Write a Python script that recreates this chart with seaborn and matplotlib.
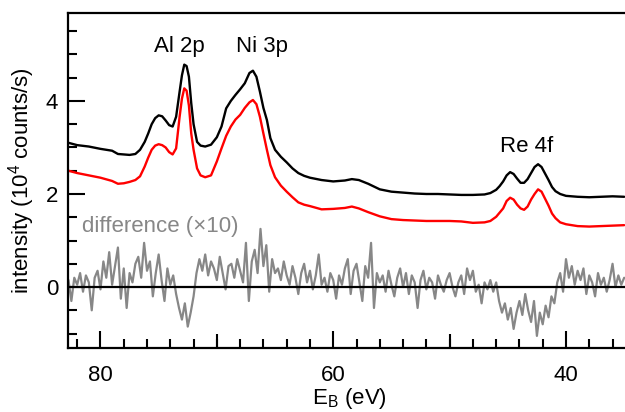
import matplotlib
matplotlib.use("Agg")
import matplotlib.pyplot as plt
import numpy as np
import pandas as pd
import seaborn as sns
from matplotlib.ticker import MultipleLocator

# binding energies (eV) for the two measured spectra
energy = [
    82.75, 82.0, 81.0, 80.0, 79.0, 78.5, 78.0, 77.5, 77.0, 76.6,
    76.2, 75.9, 75.6, 75.3, 75.0, 74.7, 74.4, 74.1, 73.8, 73.5,
    73.2, 73.0, 72.8, 72.6, 72.4, 72.2, 72.0, 71.7, 71.4, 71.0,
    70.5, 70.0, 69.6, 69.2, 68.8, 68.4, 68.0, 67.6, 67.2, 66.9,
    66.6, 66.3, 66.0, 65.7, 65.4, 65.0, 64.5, 64.0, 63.5, 63.0,
    62.5, 62.0, 61.0, 60.0, 59.0, 58.4, 57.8, 57.0, 56.0, 55.0,
    54.0, 53.0, 52.0, 51.0, 50.0, 49.0, 48.0, 47.0, 46.5, 46.0,
    45.7, 45.4, 45.1, 44.8, 44.5, 44.2, 43.9, 43.6, 43.3, 43.0,
    42.7, 42.4, 42.1, 41.8, 41.5, 41.2, 40.9, 40.5, 40.0, 39.0,
    38.0, 37.0, 36.0, 35.0,
]

# black spectrum (10^4 counts/s)
spectrum_black = [
    3.10, 3.05, 3.02, 2.97, 2.93, 2.86, 2.85, 2.84, 2.86, 2.95,
    3.12, 3.30, 3.50, 3.63, 3.69, 3.67, 3.58, 3.48, 3.45, 3.66,
    4.20, 4.55, 4.78, 4.75, 4.52, 3.95, 3.50, 3.12, 3.04, 3.02,
    3.06, 3.22, 3.45, 3.84, 4.00, 4.13, 4.25, 4.38, 4.60, 4.65,
    4.52, 4.20, 3.85, 3.59, 3.20, 2.95, 2.80, 2.68, 2.55, 2.45,
    2.39, 2.35, 2.30, 2.27, 2.29, 2.32, 2.30, 2.22, 2.10, 2.05,
    2.03, 2.01, 2.00, 2.00, 1.99, 1.98, 1.98, 1.99, 2.02, 2.09,
    2.17, 2.27, 2.40, 2.47, 2.43, 2.33, 2.24, 2.24, 2.32, 2.45,
    2.58, 2.64, 2.58, 2.44, 2.30, 2.15, 2.06, 2.00, 1.96, 1.94,
    1.93, 1.94, 1.95, 1.94,
]

# red spectrum (10^4 counts/s)
spectrum_red = [
    2.50, 2.45, 2.40, 2.35, 2.28, 2.22, 2.23, 2.26, 2.30, 2.38,
    2.59, 2.78, 2.95, 3.04, 3.07, 3.05, 3.00, 2.90, 2.85, 2.98,
    3.66, 4.05, 4.27, 4.22, 3.90, 3.30, 2.95, 2.55, 2.40, 2.36,
    2.40, 2.70, 2.98, 3.25, 3.45, 3.60, 3.70, 3.85, 3.97, 4.02,
    3.93, 3.66, 3.30, 2.95, 2.62, 2.36, 2.18, 2.05, 1.93, 1.82,
    1.77, 1.74, 1.67, 1.68, 1.70, 1.73, 1.69, 1.61, 1.52, 1.46,
    1.44, 1.43, 1.42, 1.42, 1.42, 1.41, 1.38, 1.39, 1.42, 1.51,
    1.60, 1.69, 1.85, 1.92, 1.88, 1.77, 1.69, 1.66, 1.73, 1.88,
    2.00, 2.10, 2.05, 1.90, 1.75, 1.58, 1.48, 1.39, 1.35, 1.31,
    1.30, 1.31, 1.32, 1.33,
]

# difference (x10), sampled every 0.25 eV from 82.75 eV down to 35 eV
diff_start, diff_stop, diff_step = 82.75, 35.0, 0.25
difference = [
    0.15, -0.30, 0.20, 0.05, 0.30, -0.10, 0.25, 0.10, -0.50, 0.20, 0.35, -0.05,
    0.55, 0.20, 0.75, 0.05, 0.45, 0.85, -0.25, 0.40, -0.45, 0.30, 0.10, 0.50,
    0.65, 0.20, 0.95, 0.35, 0.55, -0.20, 0.30, 0.70, 0.15, -0.30, 0.40, 0.05,
    0.25, -0.15, -0.45, -0.70, -0.35, -0.85, -0.55, -0.20, 0.30, 0.60, 0.35, 0.70,
    0.25, 0.55, 0.40, 0.15, 0.65, 0.30, -0.05, 0.45, 0.50, 0.20, 0.60, 0.35,
    0.10, 0.95, -0.30, 0.55, 0.80, 0.30, 1.25, 0.45, 0.90, -0.10, 0.60, 0.30,
    0.40, 0.15, 0.55, 0.25, 0.05, 0.45, 0.20, -0.15, 0.30, 0.50, 0.10, 0.35,
    -0.05, 0.25, 0.70, 0.05, 0.20, -0.10, 0.30, 0.15, -0.25, 0.25, 0.05, 0.40,
    0.60, -0.15, 0.35, 0.50, 0.10, -0.30, 0.45, 0.20, 0.95, -0.45, 0.30, 0.10,
    0.25, -0.10, 0.35, 0.05, -0.20, 0.20, 0.40, 0.00, 0.30, -0.15, 0.25, 0.10,
    -0.45, 0.15, 0.35, -0.05, 0.20, 0.10, -0.25, 0.25, 0.05, -0.10, 0.15, 0.30,
    0.00, -0.20, 0.10, 0.25, -0.15, 0.40, 0.15, 0.35, -0.10, 0.05, -0.35, 0.10,
    -0.05, 0.15, -0.10, 0.10, -0.30, -0.55, -0.35, -0.70, -0.45, -0.90, -0.55, -0.30,
    -0.60, -0.15, -0.50, -0.75, -0.30, -1.05, -0.55, -0.80, -0.40, -0.65, -0.20, -0.35,
    0.10, 0.30, -0.10, 0.60, 0.20, 0.45, 0.05, 0.35, 0.15, 0.40, -0.15, 0.25,
    0.10, -0.20, 0.30, 0.05, 0.20, -0.10, 0.15, 0.50, 0.00, 0.25, 0.05, 0.20,
]
diff_energy = np.arange(diff_start, diff_stop - diff_step / 2, -diff_step)

peak_labels = ["Al 2p", "Ni 3p", "Re 4f"]
peak_label_pos = [(73.2, 5.05), (66.1, 5.05), (43.35, 2.91)]

sns.set_style("ticks")
plt.rcParams["font.family"] = ["Liberation Sans", "DejaVu Sans"]
plt.rcParams["mathtext.default"] = "regular"
plt.rcParams["font.size"] = 16
plt.rcParams["text.color"] = "black"
plt.rcParams["axes.labelcolor"] = "black"
plt.rcParams["xtick.color"] = "black"
plt.rcParams["ytick.color"] = "black"

df = pd.DataFrame({"E": energy, "black": spectrum_black, "red": spectrum_red})
df_diff = pd.DataFrame({"E": diff_energy, "diff": difference})

fig = plt.figure(figsize=(6.25, 4.12), dpi=100)
ax = fig.add_axes([68 / 625, 64 / 412, 562 / 625, 335 / 412])

sns.lineplot(data=df_diff, x="E", y="diff", color="#878787", lw=1.6,
             estimator=None, ax=ax)
sns.lineplot(data=df, x="E", y="red", color="#ff0000", lw=1.7,
             estimator=None, ax=ax)
sns.lineplot(data=df, x="E", y="black", color="black", lw=1.7,
             estimator=None, ax=ax)
ax.axhline(0, color="black", lw=1.6, zorder=5)

ax.set_xlim(82.79, 34.5)
ax.set_ylim(-1.31, 5.89)

ax.xaxis.set_major_locator(MultipleLocator(20))
ax.xaxis.set_minor_locator(MultipleLocator(2))
ax.yaxis.set_major_locator(MultipleLocator(2))
ax.yaxis.set_minor_locator(MultipleLocator(0.5))
ax.tick_params(axis="both", which="both", direction="in", width=1.5,
               colors="black", labelsize=16)
ax.tick_params(axis="both", which="major", length=12)
ax.tick_params(axis="both", which="minor", length=6.5)
ax.tick_params(axis="x", which="major", pad=12.5)
ax.tick_params(axis="y", which="major", pad=7)
ax.tick_params(top=False, right=False, which="both")

# medium ticks at 50 and 70 eV
sec = ax.secondary_xaxis("bottom")
sec.set_xticks([50, 70])
sec.tick_params(direction="in", length=10, width=1.5, labelbottom=False)
sec.spines["bottom"].set_visible(False)

for side in ["left", "bottom", "top", "right"]:
    ax.spines[side].set_linewidth(1.6)
    ax.spines[side].set_color("black")

ax.set_xlabel("E$_{B}$ (eV)", fontsize=16, color="black")
ax.set_ylabel("intensity (10$^{4}$ counts/s)", fontsize=16, color="black")
ax.xaxis.set_label_coords(0.5, -0.112)
ax.yaxis.set_label_coords(-0.056, 0.5)

for label, (x, y) in zip(peak_labels, peak_label_pos):
    ax.text(x, y, label, ha="center", va="baseline", fontsize=16,
            color="black")
ax.text(81.6, 1.18, "difference (\u00d710)", ha="left", va="baseline",
        fontsize=16, color="#878787")

fig.savefig("out.png", dpi=100)
